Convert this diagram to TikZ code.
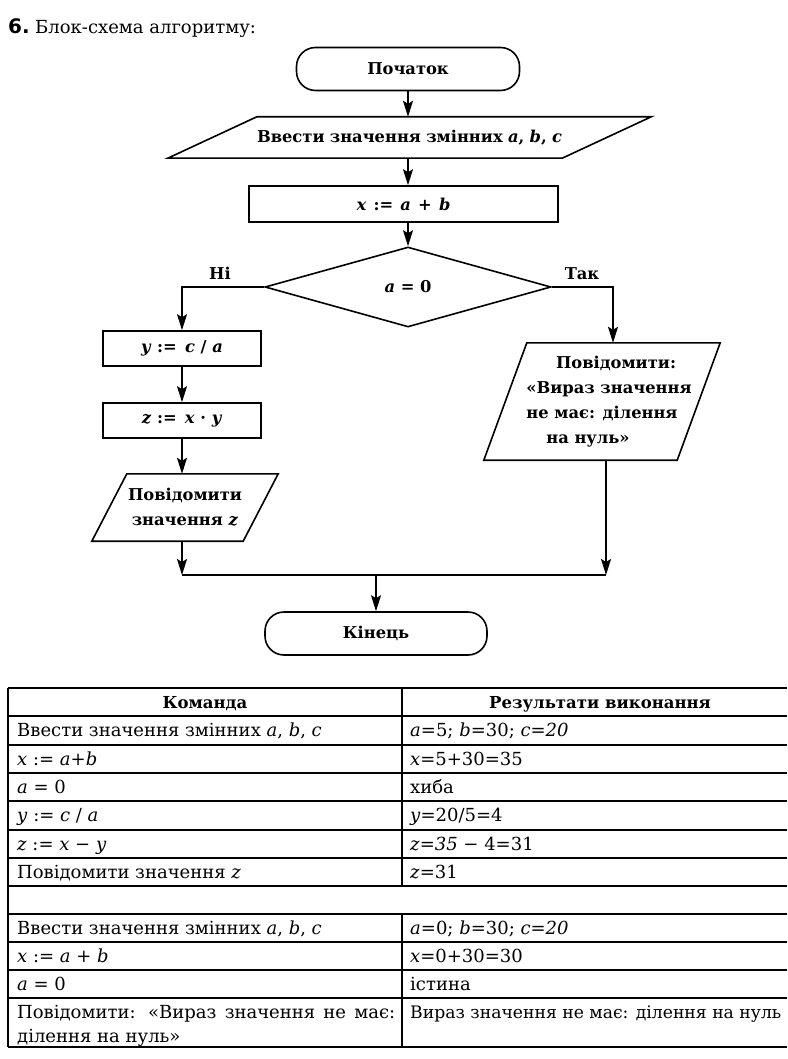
\documentclass[tikz,border=0pt]{standalone}
\usepackage{fontspec}
\setmainfont{DejaVu Serif}
\newfontfamily\sansb{DejaVu Sans}
\usetikzlibrary{arrows.meta,shapes.geometric,calc}
\newcommand\fcf{\fontsize{16.3}{25}\selectfont\bfseries}
\newcommand\tbf{\fontsize{18}{24}\selectfont}
\newcommand\thf{\fontsize{16.5}{24}\selectfont\bfseries}
\newcommand\iv[1]{\textit{#1}}
\tikzset{
  shp/.style={line width=1.6pt, line join=miter},
  conn/.style={line width=1.6pt},
  arr/.style={line width=1.6pt, -{Stealth[length=16pt,width=10pt,inset=3pt]}},
  term/.style={draw, line width=1.6pt, rounded corners=19pt, minimum width=223pt, minimum height=43pt, font=\fcf},
  proc/.style={draw, line width=1.6pt, font=\fcf, inner sep=0pt},
  para/.style={font=\fcf, inner sep=0pt},
  lbl/.style={font=\fcf, anchor=base, inner sep=0pt},
  tl/.style={line width=1.4pt},
  cell/.style={anchor=base west, inner sep=0pt, font=\tbf},
  head/.style={anchor=base, inner sep=0pt, font=\thf}
}
\begin{document}
\begin{tikzpicture}[x=1pt,y=-1pt]
\useasboundingbox (0,0) rectangle (787,1059);
\fill[white] (0,0) rectangle (787,1059);

% title
\node[anchor=base west, inner sep=0pt, font=\sansb\bfseries\fontsize{20}{20}\selectfont] (num) at (8,34) {6.};
\node[anchor=base west, inner sep=0pt, font=\fontsize{18}{18}\selectfont] (ttl) at (35,34) {Блок-схема алгоритму:};

% flowchart nodes
\node[term] (start) at (408,69) {Початок};
\node[para, minimum width=483pt, minimum height=41pt] (p0) at (409.5,137.5) {\makebox[305pt][s]{Ввести значення змінних \iv{a}, \iv{b}, \iv{c}}};
\draw[shp] ([xshift=89pt]p0.north west) -- (p0.north east) -- ([xshift=-89pt]p0.south east) -- (p0.south west) -- cycle;
\node[proc, minimum width=309pt, minimum height=36pt] (xab) at (403.5,204) {\makebox[94pt][s]{\iv{x} := \iv{a} + \iv{b}}};
\node[draw, shape=diamond, line width=1.6pt, minimum width=286pt, minimum height=80pt, inner sep=0pt, font=\fcf] (dia) at (408,287) {\iv{a} = 0};
\node[proc, minimum width=158pt, minimum height=35pt] (yb) at (182,348.5) {\iv{y} :=\enspace \iv{c} / \iv{a}};
\node[proc, minimum width=158pt, minimum height=35pt] (zb) at (182,420.5) {\iv{z} :=\enspace \iv{x} · \iv{y}};
\node[para, minimum width=186pt, minimum height=67pt, align=center] (p1) at (185,507.5) {Повідомити\\значення \iv{z}};
\draw[shp] ([xshift=35pt]p1.north west) -- (p1.north east) -- ([xshift=-35pt]p1.south east) -- (p1.south west) -- cycle;
\node[para, minimum width=236pt, minimum height=117pt, align=center] (p2) at (602,401.5) {\hspace*{28pt}Повідомити:\\\hspace*{14pt}«Вираз значення\\не має: ділення\hspace*{4pt}\\на нуль»\hspace*{28pt}};
\draw[shp] ([xshift=43pt]p2.north west) -- (p2.north east) -- ([xshift=-43pt]p2.south east) -- (p2.south west) -- cycle;
\node[term, minimum width=222pt] (fin) at (376,633.5) {Кінець};

\node[lbl] (ni) at (220,279) {Ні};
\node[lbl] (tak) at (582,279) {Так};

\coordinate (jl) at (182,575);
\coordinate (jr) at (606,575);
\coordinate (jm) at (376,575);

% connectors
\draw[arr] (start.south) -- (start.south |- p0.north);
\draw[arr] (p0.south -| start) -- (xab.north -| start);
\draw[arr] (xab.south -| dia) -- (dia.north);
\draw[arr] (dia.west) -| (yb.north);
\draw[arr] (dia.east) -| ([xshift=11pt]p2.north);
\draw[arr] (yb) -- (zb);
\draw[arr] (zb.south) -- (zb.south |- p1.north);
\draw[arr] (p1.south -| zb) -- (jl);
\draw[arr] ([xshift=4pt]p2.south) -- (jr);
\draw[conn] (jl) -- (jr);
\draw[arr] (jm) -- (fin.north);

% table grid
\foreach \yy in {688,716,745,773,801,830,858,886,914,942,970,998,1047}
  \draw[tl] (8,\yy) -- (787,\yy);
\draw[tl] (8,688) -- (8,1047);
\draw[tl] (402,688) -- (402,886);
\draw[tl] (402,914) -- (402,1047);

% table text
\node[head] (h1) at (205,708) {Команда};
\node[head] (h2) at (600,708) {Результати виконання};

\node[cell] (a1) at (17,736.5) {Ввести значення змінних \iv{a}, \iv{b}, \iv{c}};
\node[cell] (b1) at (410,736.5) {\iv{a}=5; \iv{b}=30; \iv{c}=\iv{20}};
\node[cell] (a2) at (17,765) {\iv{x} := \iv{a}+\iv{b}};
\node[cell] (b2) at (410,765) {\iv{x}=5+30=35};
\node[cell] (a3) at (17,793) {\iv{a} = 0};
\node[cell] (b3) at (410,793) {хиба};
\node[cell] (a4) at (17,821.5) {\iv{y} := \iv{c} / \iv{a}};
\node[cell] (b4) at (410,821.5) {\iv{y}=20/5=4};
\node[cell] (a5) at (17,850) {\iv{z} := \iv{x} − \iv{y}};
\node[cell] (b5) at (410,850) {\iv{z}=\iv{35} − 4=31};
\node[cell] (a6) at (17,878) {Повідомити значення \iv{z}};
\node[cell] (b6) at (410,878) {\iv{z}=31};

\node[cell] (a8) at (17,934) {Ввести значення змінних \iv{a}, \iv{b}, \iv{c}};
\node[cell] (b8) at (410,934) {\iv{a}=0; \iv{b}=30; \iv{c}=\iv{20}};
\node[cell] (a9) at (17,962) {\iv{x} := \iv{a} + \iv{b}};
\node[cell] (b9) at (410,962) {\iv{x}=0+30=30};
\node[cell] (a10) at (17,990) {\iv{a} = 0};
\node[cell] (b10) at (410,990) {істина};
\node[cell] (a11) at (17,1018) {\makebox[378pt][s]{Повідомити: «Вираз значення не має:}};
\node[cell] (a11b) at (17,1042) {ділення на нуль»};
\node[cell, font=\fontsize{17.2}{24}\selectfont] (b11) at (410,1018) {Вираз значення не має: ділення на нуль};
\end{tikzpicture}
\end{document}
